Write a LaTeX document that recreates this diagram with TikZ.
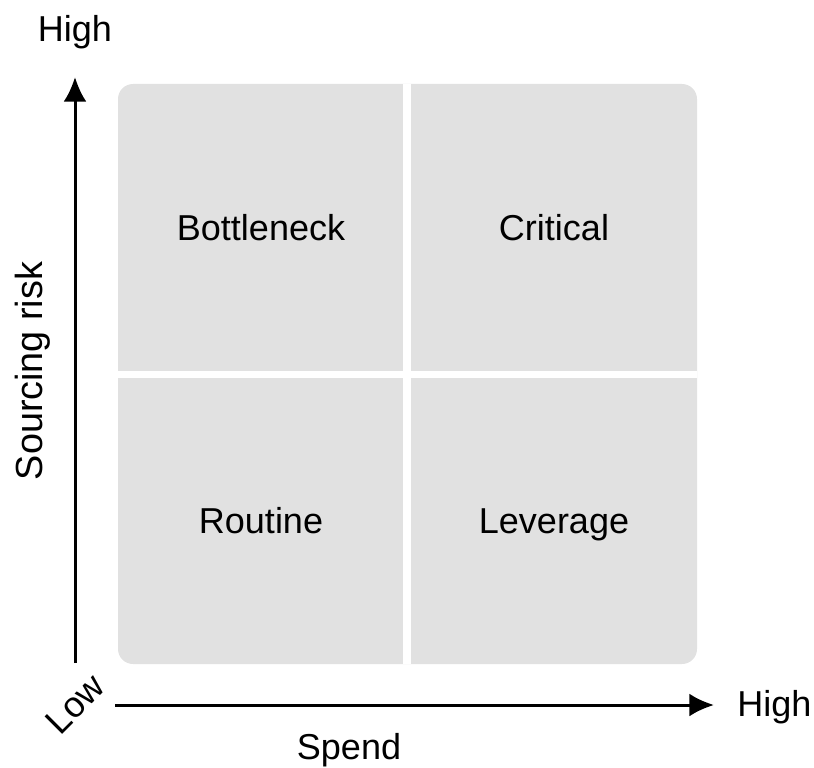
\documentclass[tikz,border=0pt]{standalone}
\usepackage{fontspec}
\setmainfont{Liberation Sans}
\usepackage{tikz}
\usetikzlibrary{arrows.meta}
\tikzset{>={Latex[length=14pt,width=13pt]}}
\definecolor{cellgray}{RGB}{225,225,225}
\tikzset{lbl/.style={inner sep=0pt,font=\fontsize{20.5}{24}\selectfont}}

\begin{document}
\begin{tikzpicture}[x=0.02cm,y=-0.02cm]
      \useasboundingbox (0,0) rectangle (814,767);
      \fill[cellgray,rounded corners=0.3cm] (118,84) rectangle (697,664);
      \draw[white,line width=0.16cm] (407,84) -- (407,664);
      \draw[white,line width=0.14cm] (118,374.5) -- (697,374.5);
      \node[lbl,anchor=base] (bottleneck) at (261,240) {Bottleneck};
      \node[lbl,anchor=base] (critical) at (554,240) {Critical};
      \node[lbl,anchor=base] (routine) at (261,533) {Routine};
      \node[lbl,anchor=base] (leverage) at (554,533) {Leverage};
      \coordinate (ybot) at (75,663);
      \coordinate (ytop) at (75,77);
      \coordinate (xleft) at (115,705);
      \coordinate (xright) at (714,705);
      \draw[->,line width=0.06cm] (ybot) -- (ytop);
      \draw[->,line width=0.06cm] (xleft) -- (xright);
      \node[lbl,anchor=base] (yhigh) at (75,42) {High};
      \node[lbl,anchor=base west] (xhigh) at (737,716) {High};
      \node[lbl,rotate=45] (low) at (75,704) {Low};
      \node[lbl,anchor=base] (spend) at (349,759) {Spend};
      \node[lbl,anchor=base,rotate=90,font=\fontsize{21.5}{25}\selectfont] (risk) at (42,371) {Sourcing risk};
      \end{tikzpicture}
\end{document}
